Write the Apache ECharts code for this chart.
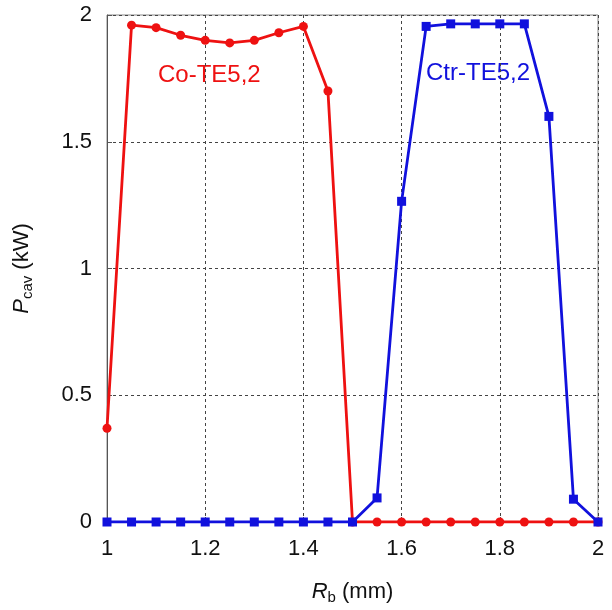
<!DOCTYPE html>
<html>
<head>
    <meta charset="utf-8">
    <title>Pcav vs Rb</title>
    <script src="https://cdn.jsdelivr.net/npm/echarts@6/dist/echarts.min.js"></script>
</head>
<body style="margin:0">
    <div id="main" style="width: 612px;height:610px;"></div>
    <script type="text/javascript">
        var myChart = echarts.init(document.getElementById('main'));

        // beam radius Rb (mm)
        var rb = [1, 1.05, 1.1, 1.15, 1.2, 1.25, 1.3, 1.35, 1.4, 1.45, 1.5,
                  1.55, 1.6, 1.65, 1.7, 1.75, 1.8, 1.85, 1.9, 1.95, 2];
        // Co-TE5,2 power (kW)
        var coPower = [0.37, 1.96, 1.95, 1.92, 1.90, 1.89, 1.90, 1.93, 1.955, 1.70, 0,
                       0, 0, 0, 0, 0, 0, 0, 0, 0, 0];
        // Ctr-TE5,2 power (kW)
        var ctrPower = [0, 0, 0, 0, 0, 0, 0, 0, 0, 0, 0,
                        0.095, 1.265, 1.955, 1.965, 1.965, 1.965, 1.965, 1.6, 0.09, 0];

        function pairs(xs, ys) {
            return xs.map(function (x, i) { return [x, ys[i]]; });
        }

        var font = 'Liberation Sans';
        var gridLine = { show: true, lineStyle: { color: '#444', type: [3, 3], width: 1 } };
        var nameRich = {
            i: { fontStyle: 'italic', fontSize: 22, color: '#111', fontFamily: font },
            s: { fontSize: 15, color: '#111', verticalAlign: 'bottom', padding: [12, 0, 0, 0], fontFamily: font }
        };

        var option = {
            animation: false,
            textStyle: { fontFamily: font },
            grid: { left: 107, right: 14, top: 15, bottom: 88, show: true, borderColor: '#888', borderWidth: 1 },
            xAxis: {
                type: 'value',
                min: 1, max: 2, interval: 0.2,
                name: '{i|R}{s|b} (mm)',
                nameLocation: 'middle',
                nameGap: 56,
                nameTextStyle: { rich: nameRich, fontSize: 22, color: '#111' },
                axisLine: { show: true, lineStyle: { color: '#555', width: 1 } },
                axisTick: { show: true, inside: true, length: 5, lineStyle: { color: '#555' } },
                axisLabel: { fontSize: 22, color: '#111', margin: 16 },
                splitLine: gridLine
            },
            yAxis: {
                type: 'value',
                min: 0, max: 2, interval: 0.5,
                name: '{i|P}{s|cav} (kW)',
                nameLocation: 'middle',
                nameGap: 72,
                nameTextStyle: { rich: nameRich, fontSize: 22, color: '#111' },
                axisLine: { show: true, lineStyle: { color: '#555', width: 1 } },
                axisTick: { show: true, inside: true, length: 5, lineStyle: { color: '#555' } },
                axisLabel: { fontSize: 22, color: '#111', margin: 15 },
                splitLine: gridLine
            },
            series: [{
                name: 'Co-TE5,2',
                type: 'line',
                data: pairs(rb, coPower),
                symbol: 'circle',
                symbolSize: 9,
                color: '#ee1111',
                lineStyle: { width: 2.8, color: '#ee1111' },
                itemStyle: { color: '#ee1111' },
                z: 2
            }, {
                name: 'Ctr-TE5,2',
                type: 'line',
                data: pairs(rb, ctrPower),
                symbol: 'rect',
                symbolSize: 9,
                color: '#1111dd',
                lineStyle: { width: 2.8, color: '#1111dd' },
                itemStyle: { color: '#1111dd' },
                z: 3
            }],
            graphic: [{
                type: 'text',
                left: 158, top: 63,
                style: { text: 'Co-TE5,2', fill: '#ee1111', font: '24px "Liberation Sans"' }
            }, {
                type: 'text',
                left: 426, top: 61,
                style: { text: 'Ctr-TE5,2', fill: '#1111dd', font: '24px "Liberation Sans"' }
            }]
        };

        myChart.setOption(option);
    </script>
</body>
</html>
